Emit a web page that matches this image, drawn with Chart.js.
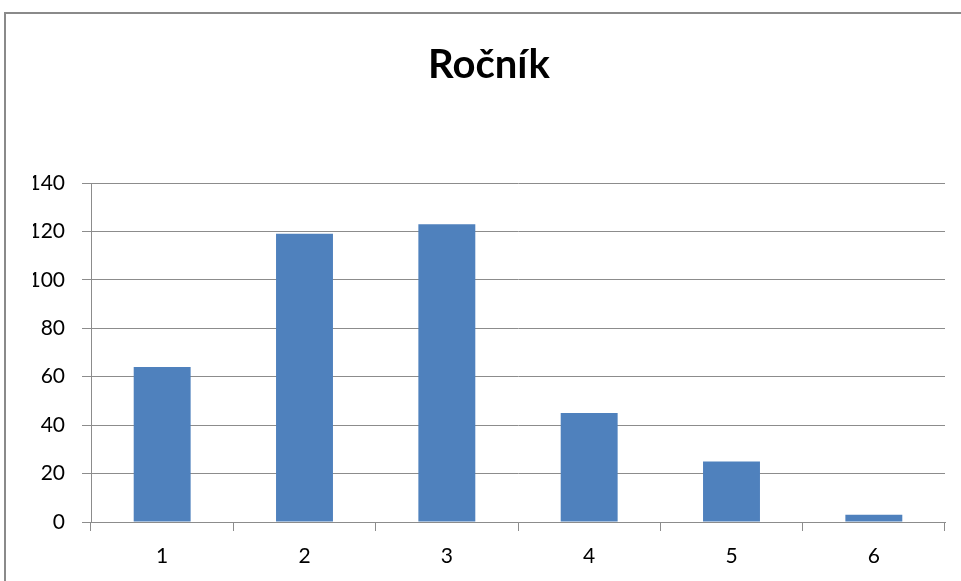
<!DOCTYPE html>
<html>
<head>
<meta charset="utf-8">
<script src="https://cdn.jsdelivr.net/npm/chart.js@4/dist/chart.umd.min.js"></script>
<style>
  html, body { margin: 0; padding: 0; background: #fff; overflow: hidden; }
  #wrap { position: relative; width: 961px; height: 581px; }
  #frame { position: absolute; left: 4px; top: 12px; width: 1100px; height: 800px;
           border-left: 2px solid #8a8a8a; border-top: 2px solid #8a8a8a; pointer-events: none; }
  canvas { position: absolute; left: 0; top: 0; }
</style>
</head>
<body>
<div id="wrap">
  <canvas id="c" width="961" height="581"></canvas>
  <div id="frame"></div>
</div>
<script>
const chartTitle = "Ročník";
const categories = ["1", "2", "3", "4", "5", "6"];
const values = [64, 119, 123, 45, 25, 3];
const yTicks = [0, 20, 40, 60, 80, 100, 120, 140];

const gridColor = '#8c8c8c';
const fontFamily = 'Lato, "Open Sans", sans-serif';

new Chart(document.getElementById('c'), {
  type: 'bar',
  data: {
    labels: categories,
    datasets: [{
      data: values,
      backgroundColor: '#4F81BD',
      borderWidth: 0,
      categoryPercentage: 0.4,
      barPercentage: 1.0
    }]
  },
  options: {
    responsive: false,
    animation: false,
    devicePixelRatio: 1,
    layout: { padding: { left: 33, right: 16, top: 0, bottom: 0 } },
    plugins: {
      legend: { display: false },
      tooltip: { enabled: false },
      title: {
        display: true,
        text: chartTitle,
        color: '#000',
        font: { family: fontFamily, size: 40, weight: 'bold', lineHeight: 1.2 },
        padding: { top: 41.2, bottom: 93.8 }
      }
    },
    scales: {
      x: {
        grid: { offset: true, drawOnChartArea: false, drawTicks: true, tickLength: 9, color: gridColor, lineWidth: 1 },
        border: { display: true, color: gridColor, width: 1 },
        ticks: { color: '#000', font: { family: fontFamily, size: 21 }, padding: 13 },
        afterFit: (s) => { s.height = 59; }
      },
      y: {
        min: 0,
        max: 140,
        afterBuildTicks: (s) => { s.ticks = yTicks.map(v => ({ value: v })); },
        grid: { color: gridColor, lineWidth: 1, tickLength: 9, drawTicks: true },
        border: { display: true, color: gridColor, width: 1 },
        ticks: { color: '#000', font: { family: fontFamily, size: 21 }, padding: 17 },
        afterFit: (s) => { s.width = 58; }
      }
    }
  }
});
</script>
</body>
</html>
